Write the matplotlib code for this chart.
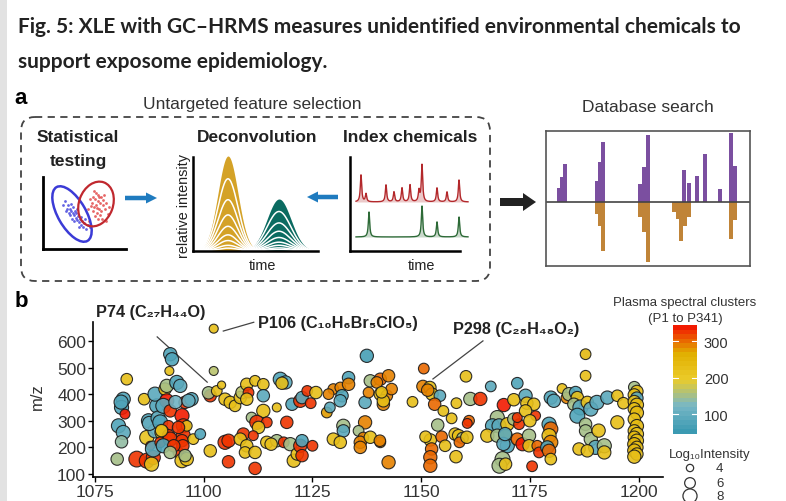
import numpy as np
import matplotlib
matplotlib.use("Agg")
import matplotlib.pyplot as plt
from matplotlib.patches import Ellipse, FancyBboxPatch, FancyArrow, Rectangle
from matplotlib.colors import LinearSegmentedColormap, Normalize

plt.rcParams['font.family'] = ['Liberation Sans', 'DejaVu Sans']

# ---- panel a: schematic data ----
# statistical testing (pixel-like units)
blue_x = [22, 25, 27, 28, 30, 31, 33, 34, 36, 38, 40, 26, 24, 32, 35, 29, 37, 41, 20, 30, 33, 27, 39, 43, 23, 31, 36, 45, 28, 34, 38, 42, 47]
blue_y = [48, 44, 40, 38, 36, 34, 31, 29, 27, 24, 22, 36, 40, 38, 33, 30, 30, 26, 44, 42, 36, 34, 28, 20, 38, 28, 22, 24, 45, 40, 32, 30, 22]
red_x = [50, 52, 55, 57, 53, 51, 56, 58, 54, 49, 60, 55, 58, 47, 53, 62, 50, 57, 60, 48, 54, 56, 63, 52, 59, 45, 65, 61, 51, 66, 55, 46, 63]
red_y = [52, 50, 48, 46, 44, 42, 40, 38, 36, 46, 44, 54, 52, 50, 56, 40, 38, 34, 49, 43, 41, 52, 46, 33, 30, 40, 35, 54, 58, 42, 30, 28, 28]

# deconvolution peaks
peak_pos = [35, 86]
peak_height = [95, 52]
peak_sigma = [10, 12]
peak_colors = ['#d4a227', '#0b6b61']
band_fracs = [0.76, 0.54, 0.38, 0.26, 0.17, 0.11, 0.06, 0.03]

# index chemicals spectra
red_pos = [11, 16, 36, 44, 52, 60, 69, 72, 87, 97, 109]
red_h = [27, 8, 17, 10, 14, 17, 11, 37, 14, 10, 22]
green_pos = [19, 72, 87, 109]
green_h = [25, 31, 15, 20]

# database search mirror plot
query_pos = [13, 16, 19, 51, 54, 57, 94, 98, 102, 138, 143, 151, 159, 174, 185, 189]
query_int = [14, 25, 38, 21, 40, 60, 18, 35, 67, 32, 19, 26, 48, 13, 69, 36]
lib_pos = [51, 54, 57, 94, 98, 102, 128, 132, 135, 139, 143, 185, 189]
lib_int = [12, 24, 49, 15, 30, 60, 10, 17, 39, 24, 15, 37, 18]

# ---- panel b: spectral clusters ----
rt = [1082.3, 1081.5, 1081.1, 1081.9, 1080.4, 1081.5, 1081.1, 1080.1, 1081.0,
      1086.3, 1084.6, 1086.9, 1088.4, 1088.0, 1086.9, 1087.3, 1087.7, 1088.8, 1088.4, 1089.2, 1088.8, 1087.5, 1089.5,
      1092.3, 1092.7, 1092.1, 1091.1, 1091.5, 1093.8, 1094.6, 1091.5, 1090.7, 1092.3,
      1090.0, 1091.9, 1090.4, 1091.9, 1090.0, 1092.3, 1090.7, 1094.2, 1095.7, 1095.0,
      1095.3, 1095.3, 1095.0, 1095.2, 1095.0, 1096.1, 1097.2, 1096.1, 1097.6, 1099.2,
      1095.7, 1094.2, 1093.1, 1093.5, 1096.5, 1090.3, 1092.3,
      1102.3, 1102.3, 1101.5, 1101.1, 1103.0, 1104.1, 1104.9, 1106.1, 1101.5, 1104.9,
      1105.7, 1105.7, 1107.2, 1108.4, 1108.8, 1109.9, 1110.3, 1109.9, 1109.1, 1108.4,
      1109.9, 1109.5, 1111.8, 1111.8, 1111.0, 1111.8,
      1113.7, 1113.7, 1113.7, 1112.2, 1114.5, 1112.6, 1111.4, 1114.5, 1116.8, 1115.5,
      1117.6, 1118.8, 1118.0, 1116.8, 1119.1, 1120.3, 1122.2, 1122.6, 1123.8, 1124.6,
      1118.4, 1119.9, 1120.7, 1121.5, 1122.2, 1122.6, 1125.0, 1122.6, 1125.8,
      1129.8, 1128.7, 1128.3, 1129.0, 1131.4, 1133.3, 1133.3, 1131.8, 1131.4, 1132.1,
      1132.1, 1129.8, 1131.4, 1137.5, 1137.1, 1135.6, 1136.7, 1136.0, 1136.0, 1137.1,
      1137.9, 1138.3, 1140.6, 1142.5, 1140.6, 1142.1, 1141.3, 1143.2, 1140.6, 1142.5,
      1141.3, 1138.3, 1140.5, 1139.8, 1140.9,
      1150.6, 1150.4, 1152.0, 1152.5, 1154.3, 1153.1, 1148.0, 1155.1, 1157.0, 1153.8,
      1158.1, 1160.3, 1161.0, 1160.6, 1151.5, 1152.1, 1152.4, 1152.1, 1152.1, 1151.0,
      1154.7, 1157.8, 1158.6, 1159.5, 1158.8, 1155.5, 1158.0, 1160.5, 1161.3, 1163.6,
      1166.0, 1172.1, 1169.0, 1171.3, 1174.0, 1174.3, 1175.9, 1167.5, 1166.4, 1167.9,
      1169.8, 1171.3, 1172.5, 1172.1, 1174.0, 1176.3, 1175.0, 1165.2, 1167.5, 1169.4,
      1169.8, 1172.1, 1173.3, 1174.8, 1174.8, 1176.7, 1177.1, 1168.7, 1168.0, 1169.4,
      1175.5, 1168.9, 1169.3,
      1179.4, 1179.8, 1179.4, 1179.8, 1179.0, 1179.4, 1179.8, 1179.8, 1180.5, 1182.4,
      1183.5, 1184.0, 1185.5, 1185.9, 1185.1, 1186.6, 1185.9, 1188.2, 1189.0, 1190.4,
      1187.8, 1187.8, 1187.8, 1187.8, 1189.0, 1190.1, 1192.1, 1192.1, 1186.3, 1188.2,
      1192.8, 1195.1, 1196.5, 1195.1, 1190.8,
      1199.0, 1199.6, 1199.0, 1199.6, 1199.0, 1199.6, 1199.0, 1199.6, 1199.0, 1199.6,
      1199.0, 1199.6, 1199.0, 1199.6, 1199.0, 1199.6, 1199.0, 1199.6, 1199.0]
mz = [456, 381, 350, 325, 281, 256, 221, 156, 370,
      381, 156, 150, 162, 137, 237, 300, 206, 262, 194, 356, 400, 290, 310,
      550, 531, 487, 419, 431, 444, 431, 375, 356, 337,
      294, 281, 256, 244, 219, 231, 206, 181, 369, 319,
      281, 244, 225, 206, 150, 156, 381, 281, 231, 250,
      169, 275, 206, 370, 375, 263, 181,
      646, 487, 394, 405, 412, 434, 381, 369, 187, 219,
      225, 146, 356, 387, 406, 437, 406, 381, 250, 231,
      206, 181, 181, 121, 312, 450,
      437, 394, 337, 294, 294, 275, 244, 219, 225, 212,
      456, 444, 441, 350, 294, 362, 375, 387, 412, 366,
      219, 212, 150, 175, 206, 225, 206, 169, 406,
      419, 400, 331, 350, 425, 462, 437, 394, 375, 281,
      262, 231, 219, 544, 294, 262, 237, 219, 200, 369,
      406, 450, 456, 469, 400, 394, 362, 419, 219, 144,
      375, 238, 225, 444, 407,
      496, 429, 425, 400, 394, 362, 371, 337, 309, 284,
      366, 467, 300, 290, 415, 228, 194, 163, 131, 240,
      240, 250, 244, 235, 219, 206, 165, 238, 382, 382,
      429, 441, 359, 379, 394, 366, 362, 312, 281, 281,
      287, 306, 287, 312, 337, 319, 300, 244, 244, 244,
      206, 231, 212, 244, 206, 206, 181, 156, 131, 137,
      129, 213, 250,
      287, 269, 244, 219, 200, 187, 156, 387, 375, 421,
      386, 400, 406, 387, 362, 350, 319, 369, 344, 369,
      287, 262, 550, 469, 231, 200, 206, 181, 194, 187,
      387, 394, 366, 294, 263,
      426, 410, 397, 385, 372, 360, 345, 330, 306, 280,
      262, 250, 238, 225, 212, 200, 188, 175, 165]
cluster = [230, 80, 75, 335, 80, 85, 140, 145, 70,
           225, 330, 330, 320, 230, 215, 80, 330, 95, 85, 80, 85, 100, 90,
           70, 75, 230, 230, 150, 80, 85, 335, 85, 330,
           80, 330, 220, 330, 330, 330, 80, 330, 330, 335,
           330, 330, 330, 330, 220, 230, 80, 230, 230, 80,
           150, 330, 330, 110, 100, 230, 150,
           230, 160, 330, 150, 230, 230, 220, 230, 230, 330,
           330, 330, 230, 230, 160, 220, 330, 230, 330, 230,
           230, 230, 230, 330, 150, 225,
           230, 85, 230, 330, 330, 230, 330, 220, 150, 230,
           80, 85, 230, 230, 330, 80, 330, 90, 330, 330,
           330, 150, 230, 230, 330, 80, 330, 330, 230,
           290, 290, 280, 90, 290, 80, 290, 80, 85, 150,
           85, 230, 230, 60, 290, 150, 290, 290, 290, 85,
           290, 150, 300, 290, 230, 290, 290, 290, 290, 290,
           230, 230, 290, 290, 230,
           300, 290, 230, 230, 90, 300, 230, 230, 230, 150,
           230, 230, 300, 330, 290, 230, 300, 300, 300, 230,
           300, 230, 230, 150, 300, 230, 230, 230, 150, 330,
           90, 80, 335, 230, 85, 230, 230, 150, 80, 85,
           230, 150, 330, 330, 230, 330, 230, 220, 150, 230,
           80, 300, 335, 150, 230, 300, 330, 150, 150, 230,
           330, 85, 90,
           80, 300, 230, 290, 80, 300, 230, 80, 85, 230,
           290, 150, 80, 230, 150, 85, 80, 230, 85, 85,
           150, 150, 240, 230, 150, 85, 150, 230, 230, 230,
           85, 230, 230, 230, 230,
           150, 230, 230, 90, 230, 240, 230, 240, 230, 240,
           230, 220, 240, 230, 250, 230, 240, 230, 230]
log_int = [6.5, 8, 8, 5.5, 8, 8, 7, 7, 8,
           6.5, 9, 8.5, 8, 8, 8, 8, 5, 8, 9, 8, 8, 8, 8,
           7.5, 7.5, 5, 7, 7.5, 8, 7.5, 8, 8.5, 7,
           8.5, 6, 8, 7, 6, 8, 8, 6, 7, 8,
           8, 8, 7, 7, 8, 7.5, 7.5, 6, 6, 6,
           7, 7, 7, 7.5, 7.5, 7, 7,
           5, 5, 7, 7, 6, 4.5, 7, 7, 7, 8,
           7.5, 7, 6.5, 7, 7, 7, 6, 7, 7, 7,
           7, 6.5, 7, 7, 6, 6,
           6.5, 7, 7.5, 8, 6, 7, 5.5, 7, 7, 7,
           8, 7.5, 7, 5, 7, 7, 7.5, 7, 6, 6,
           6, 7.5, 7.5, 7, 7.5, 7, 6, 7, 7,
           6, 6, 6, 6, 6, 7, 7, 7, 7, 7.5,
           7, 7, 7, 7.5, 7.5, 6, 6, 7, 7, 7,
           6, 7, 7, 7, 7, 6.5, 7, 6.5, 6, 7.5,
           7, 7, 6.5, 6.5, 6.5,
           6, 7, 7, 7, 6.5, 7, 6, 6, 6, 7,
           6, 6.5, 6, 5.5, 7, 7, 7, 7.5, 7.5, 6.5,
           6.5, 7, 7, 6.5, 6, 6.5, 7, 7, 7.5, 7.5,
           6, 6.5, 7.5, 7, 7.5, 7, 7, 8, 8, 8,
           7.5, 7, 6, 5.5, 7, 5.5, 7, 7.5, 7.5, 7.5,
           8, 7, 7.5, 7.5, 7, 6, 6, 8.5, 8.5, 7,
           6, 7.5, 7.5,
           8, 8, 8, 8, 7.5, 7.5, 6.5, 7.5, 7.5, 5.5,
           6.5, 7.5, 7, 7, 7, 8.5, 8.5, 7, 8, 8,
           7, 7, 6, 6, 7.5, 8, 8, 7.5, 7, 7,
           7.5, 6.5, 6.5, 7.5, 7.5,
           6.5, 7, 7, 7, 7, 7.5, 7, 7.5, 7, 7.5,
           7, 7.5, 7, 7.5, 7.5, 7, 7.5, 7, 7.5]
legend_int = [4, 6, 8]
cbar_ticks = [100, 200, 300]
zissou = ['#3B9AB2', '#78B7C5', '#EBCC2A', '#E1AF00', '#F21A00']

W, H = 786, 502
fig = plt.figure(figsize=(W / 100, H / 100), dpi=100)


def px_axes(x, y, w, h):
    return fig.add_axes([x / W, 1 - (y + h) / H, w / W, h / H])


def dot_size(L):
    # marker diameter in px grows with log10 intensity
    return (0.72 * (1.7 * np.asarray(L) + 0.5)) ** 2


# overlay in pixel coords
ax0 = fig.add_axes([0, 0, 1, 1])
ax0.set_xlim(0, W)
ax0.set_ylim(H, 0)
ax0.axis('off')
ax0.add_patch(Rectangle((0, 0), 7, H, color='#e2e2e2', lw=0))

title_kw = dict(fontfamily=['Lato', 'DejaVu Sans'], fontweight='bold', fontsize=15, color='#222222', va='center')
ax0.text(18, 27, 'Fig. 5: XLE with GC\u2013HRMS measures unidentified environmental chemicals to', **title_kw)
ax0.text(18, 62, 'support exposome epidemiology.', **title_kw)

ax0.text(21, 98, 'a', fontsize=16, fontweight='bold', va='center', ha='center')
ax0.text(21, 302, 'b', fontsize=16, fontweight='bold', va='center', ha='center')
ax0.text(252, 104, 'Untargeted feature selection', fontsize=12.5, color='#333333', ha='center', va='center')
ax0.text(648, 107, 'Database search', fontsize=12.5, color='#333333', ha='center', va='center')
ax0.add_patch(FancyBboxPatch((21, 118), 469, 164, boxstyle='round,pad=0,rounding_size=14',
                             fill=False, ec='#444444', lw=1.3, ls=(0, (4, 3))))
bold_kw = dict(fontsize=12.5, fontweight='bold', color='#222222', ha='center', va='center')
ax0.text(78, 138, 'Statistical', **bold_kw)
ax0.text(78, 162, 'testing', **bold_kw)
ax0.text(257, 138, 'Deconvolution', **bold_kw)
ax0.text(410, 138, 'Index chemicals', **bold_kw)
ax0.text(184, 206, 'relative intensity', fontsize=10.4, rotation=90, ha='center', va='center', color='#222222')
ax0.text(262, 266, 'time', fontsize=10.4, ha='center', va='center', color='#222222')
ax0.text(421, 266, 'time', fontsize=10.4, ha='center', va='center', color='#222222')

ax0.add_patch(FancyArrow(125, 199, 32, 0, width=4.5, head_width=11, head_length=11,
                         length_includes_head=True, color='#1f7bbf', lw=0))
ax0.add_patch(FancyArrow(338, 198, -31, 0, width=4.5, head_width=11, head_length=11,
                         length_includes_head=True, color='#1f7bbf', lw=0))
ax0.add_patch(FancyArrow(500, 203, 36, 0, width=8, head_width=18, head_length=13,
                         length_includes_head=True, color='#222222', lw=0))

# statistical testing inset
ax_s = px_axes(43, 178, 83, 72)
ax_s.scatter(blue_x, blue_y, s=4, color='#3d3ddb', alpha=0.8, lw=0)
ax_s.scatter(red_x, red_y, s=4, color='#e04040', alpha=0.8, lw=0)
ax_s.add_patch(Ellipse((29, 35), 62, 28, angle=-60, fill=False, ec='#3b3bd6', lw=1.8))
ax_s.add_patch(Ellipse((53, 45), 46, 34, angle=70, fill=False, ec='#c0282e', lw=1.6))
ax_s.set_xlim(0, 83)
ax_s.set_ylim(0, 72)
ax_s.set_xticks([])
ax_s.set_yticks([])
for sp in ['top', 'right']:
    ax_s.spines[sp].set_visible(False)
for sp in ['left', 'bottom']:
    ax_s.spines[sp].set_linewidth(2)
ax_s.patch.set_alpha(0)

# deconvolution inset
ax_d = px_axes(193, 156, 125, 96)
xd = np.linspace(0, 125, 500)
for c, h, s, col in zip(peak_pos, peak_height, peak_sigma, peak_colors):
    prof = np.exp(-0.5 * ((xd - c) / s) ** 2)
    m = prof > 0.01
    ax_d.fill_between(xd[m], 0, h * prof[m], color=col, lw=0)
    for f in band_fracs:
        ax_d.plot(xd[m], h * f * prof[m], color='white', lw=1.1)
ax_d.set_xlim(0, 125)
ax_d.set_ylim(0, 96)
ax_d.set_xticks([])
ax_d.set_yticks([])
for sp in ['top', 'right']:
    ax_d.spines[sp].set_visible(False)
for sp in ['left', 'bottom']:
    ax_d.spines[sp].set_linewidth(1.8)
ax_d.spines['left'].set_bounds(0, 94)
ax_d.patch.set_alpha(0)

# index chemicals inset
ax_i = px_axes(350, 158, 120, 94)
xi = np.linspace(6, 118, 1200)
for pos, hts, base, col in [(red_pos, red_h, 49, '#b3282b'), (green_pos, green_h, 14, '#2d6a37')]:
    sig = np.full_like(xi, base)
    for c, h in zip(pos, hts):
        sig += h * 0.8 ** 2 / ((xi - c) ** 2 + 0.8 ** 2)
    ax_i.fill_between(xi, base, sig, color=col, alpha=0.25, lw=0)
    ax_i.plot(xi, sig, color=col, lw=1.0)
ax_i.set_xlim(0, 120)
ax_i.set_ylim(0, 94)
ax_i.set_xticks([])
ax_i.set_yticks([])
for sp in ['top', 'right']:
    ax_i.spines[sp].set_visible(False)
for sp in ['left', 'bottom']:
    ax_i.spines[sp].set_linewidth(1.8)
ax_i.spines['bottom'].set_bounds(0, 110)
ax_i.patch.set_alpha(0)

# database search inset
ax_db = px_axes(546, 132, 204, 135)
ax_db.bar(query_pos, query_int, width=3.8, color='#7b4fa0', lw=0)
ax_db.bar(lib_pos, [-v for v in lib_int], width=3.8, color='#c08438', lw=0)
ax_db.axhline(0, color='#444444', lw=1.2)
ax_db.set_xlim(0, 204)
ax_db.set_ylim(-64, 71)
ax_db.set_xticks([])
ax_db.set_yticks([])
for sp in ax_db.spines.values():
    sp.set_linewidth(1.2)
    sp.set_color('#555555')

# panel b scatter
assert len(rt) == len(mz) == len(cluster) == len(log_int)
cmap = LinearSegmentedColormap.from_list('zissou', zissou, N=24)
norm = Normalize(45, 345)
ax = px_axes(93, 323, 570, 155)
sc = ax.scatter(rt, mz, c=cluster, s=dot_size(log_int), cmap=cmap, norm=norm,
                edgecolors='#1a1a1a', linewidths=0.8, alpha=0.9, zorder=3)
ax.set_xlim(1074.54, 1205.6)
ax.set_ylim(88.7, 671)
ax.set_xticks([1075, 1100, 1125, 1150, 1175, 1200])
ax.set_yticks([100, 200, 300, 400, 500, 600])
ax.tick_params(labelsize=12.5, labelcolor='#333333', length=3.5, width=1, pad=1.5)
for sp in ['top', 'right']:
    ax.spines[sp].set_visible(False)
for sp in ['left', 'bottom']:
    ax.spines[sp].set_linewidth(1.2)
ax.patch.set_alpha(0)
ax0.text(37, 397, 'm/z', fontsize=12, rotation=90, ha='center', va='center', color='#333333')

# annotations
lab_kw = dict(fontsize=11.7, fontweight='bold', color='#222222', va='center')
ax0.text(151, 313, 'P74 (C\u2082\u2087H\u2084\u2084O)', ha='center', **lab_kw)
ax0.text(258, 324, 'P106 (C\u2081\u2080H\u2086Br\u2085ClO\u2085)', ha='left', **lab_kw)
ax0.text(453, 330, 'P298 (C\u2082\u2088H\u2084\u2088O\u2082)', ha='left', **lab_kw)
ax.plot([1089.3, 1100.8], [615, 445], color='#444444', lw=0.9, clip_on=False)
ax.plot([1104.5, 1111.5], [637, 670], color='#444444', lw=0.9, clip_on=False)
ax.plot([1152.7, 1164.2], [457, 600], color='#444444', lw=0.9, clip_on=False)

# colour bar
cax = px_axes(673, 326, 24, 109)
cb = fig.colorbar(sc, cax=cax)
cb.solids.set_alpha(1)
cb.outline.set_visible(False)
cb.set_ticks(cbar_ticks)
cb.ax.tick_params(length=0, labelsize=10.5, labelcolor='#333333', pad=5)
for v in cbar_ticks:
    cax.axhline(v, 0, 0.2, color='white', lw=0.8)
    cax.axhline(v, 0.8, 1, color='white', lw=0.8)
ax0.text(685, 303, 'Plasma spectral clusters', fontsize=9.5, ha='center', va='center', color='#333333')
ax0.text(685, 319, '(P1 to P341)', fontsize=9.5, ha='center', va='center', color='#333333')

# intensity legend
ax0.text(710, 455, 'Log\u2081\u2080Intensity', fontsize=9.5, ha='center', va='center', color='#333333')
leg_y = [469, 484, 497]
ax0.scatter([690] * 3, leg_y, s=dot_size(legend_int), facecolors='white', edgecolors='#333333', lw=0.9)
for v, yy in zip(legend_int, leg_y):
    ax0.text(716, yy, str(v), fontsize=9.5, ha='left', va='center', color='#333333')

fig.savefig('out.png', dpi=100)
